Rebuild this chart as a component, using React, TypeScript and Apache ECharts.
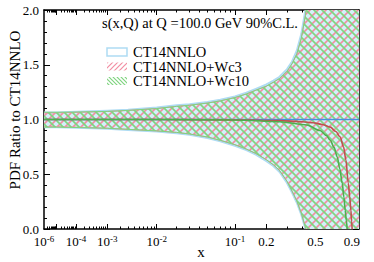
import React, { useEffect, useRef } from "react";
import * as echarts from "echarts";

// x-axis uses an x^0.2 scale
const POW = 0.2;
const toU = (x: number) => Math.pow(x, POW);
const X_MIN = 1e-6;
const X_MAX = 1;

const labelX = [1e-6, 1e-4, 1e-3, 1e-2, 1e-1, 0.2, 0.5, 0.9];
const labelText = ["10^-6", "10^-4", "10^-3", "10^-2", "10^-1", "0.2", "0.5", "0.9"];
const majorTickX = [1e-5, 1e-4, 1e-3, 1e-2, 1e-1, 0.2, 0.5, 0.9];
const minorTickX = [
  2e-6, 3e-6, 4e-6, 5e-6, 6e-6, 7e-6, 8e-6, 9e-6,
  2e-5, 3e-5, 4e-5, 5e-5, 6e-5, 7e-5, 8e-5, 9e-5,
  2e-4, 3e-4, 4e-4, 5e-4, 6e-4, 7e-4, 8e-4, 9e-4,
  2e-3, 3e-3, 4e-3, 5e-3, 6e-3, 7e-3, 8e-3, 9e-3,
  2e-2, 3e-2, 4e-2, 5e-2, 6e-2, 7e-2, 8e-2, 9e-2,
  0.3, 0.4, 0.6, 0.7, 0.8,
];

// band x grid (values beyond the 0..2 window continue outside and are clipped)
const bandX = [1e-6, 1e-5, 1e-4, 1e-3, 3e-3, 1e-2, 2e-2, 3e-2, 0.05, 0.07, 0.1, 0.13, 0.16, 0.2, 0.23, 0.26, 0.3, 0.33, 0.36, 0.39, 0.42, 0.45, 0.48, 0.5, 0.6, 1.0];
const ct14Upper = [1.065, 1.065, 1.07, 1.08, 1.09, 1.11, 1.13, 1.14, 1.16, 1.18, 1.21, 1.245, 1.28, 1.32, 1.355, 1.39, 1.46, 1.53, 1.63, 1.78, 2.0, 2.3, 2.65, 2.9, 3.2, 3.2];
const ct14Lower = [0.93, 0.93, 0.925, 0.915, 0.905, 0.89, 0.875, 0.86, 0.83, 0.8, 0.76, 0.72, 0.68, 0.62, 0.575, 0.52, 0.42, 0.33, 0.24, 0.13, 0.0, -0.35, -0.8, -1, -1, -1];
const wc3Upper = [1.06, 1.06, 1.065, 1.073, 1.083, 1.1, 1.12, 1.13, 1.15, 1.17, 1.2, 1.233, 1.267, 1.305, 1.34, 1.375, 1.44, 1.51, 1.6, 1.74, 1.95, 2.25, 2.6, 2.85, 3.2, 3.2];
const wc3Lower = [0.935, 0.935, 0.93, 0.92, 0.91, 0.896, 0.882, 0.868, 0.84, 0.81, 0.77, 0.73, 0.69, 0.632, 0.587, 0.533, 0.435, 0.345, 0.255, 0.145, 0.015, -0.33, -0.8, -1, -1, -1];
const wc10Upper = [1.066, 1.066, 1.068, 1.074, 1.083, 1.1, 1.12, 1.13, 1.15, 1.17, 1.2, 1.233, 1.267, 1.305, 1.34, 1.375, 1.44, 1.51, 1.6, 1.74, 1.95, 2.25, 2.6, 2.85, 3.2, 3.2];
const wc10Lower = [0.93, 0.93, 0.927, 0.92, 0.91, 0.896, 0.882, 0.868, 0.84, 0.81, 0.77, 0.73, 0.69, 0.632, 0.587, 0.533, 0.435, 0.345, 0.255, 0.145, 0.015, -0.33, -0.8, -1, -1, -1];

// central values
const ct14CentralX = [1e-6, 1e-3, 0.1, 0.5, 1.0];
const ct14Central = [1, 1, 1, 1, 1];
const wc3CentralX = [1e-6, 1e-3, 1e-2, 0.1, 0.26, 0.4, 0.48, 0.56, 0.64, 0.7, 0.75, 0.79, 0.82, 0.85, 0.87, 0.885, 0.895, 0.902];
const wc3Central = [1, 1, 1, 0.997, 0.99, 0.98, 0.97, 0.955, 0.93, 0.89, 0.84, 0.75, 0.63, 0.42, 0.29, 0.17, 0.07, 0];
const wc10CentralX = [1e-6, 1e-3, 1e-2, 0.1, 0.26, 0.43, 0.54, 0.6, 0.64, 0.68, 0.715, 0.745, 0.774, 0.795, 0.811, 0.825, 0.836];
const wc10Central = [1, 1, 1, 0.996, 0.98, 0.95, 0.9, 0.855, 0.81, 0.745, 0.66, 0.55, 0.42, 0.29, 0.17, 0.08, 0];

const legendNames = ["CT14NNLO", "CT14NNLO+Wc3", "CT14NNLO+Wc10"];
const titleText = "s(x,Q) at Q =100.0 GeV 90%C.L.";
const yName = "PDF Ratio to CT14NNLO";
const xName = "x";

const FONT = '"Liberation Serif", "DejaVu Serif", serif';
const BLUE_FILL = "#d3f0fa";
const BLUE_EDGE = "#aedcf3";
const PINK = "#f28ea3";
const GREEN = "#7fd47f";

function hatch(color: string, dir: number, size = 8, lw = 1.6) {
  const c = document.createElement("canvas");
  c.width = size;
  c.height = size;
  const g = c.getContext("2d")!;
  g.strokeStyle = color;
  g.lineWidth = lw;
  g.beginPath();
  const s = size;
  if (dir > 0) {
    g.moveTo(-2, s + 2); g.lineTo(s + 2, -2);
    g.moveTo(-2, 2); g.lineTo(2, -2);
    g.moveTo(s - 2, s + 2); g.lineTo(s + 2, s - 2);
  } else {
    g.moveTo(-2, -2); g.lineTo(s + 2, s + 2);
    g.moveTo(s - 2, -2); g.lineTo(s + 2, 2);
    g.moveTo(-2, s - 2); g.lineTo(2, s + 2);
  }
  g.stroke();
  return c;
}

function labelFor(v: number) {
  for (let i = 0; i < labelX.length; i++) {
    if (Math.abs(toU(labelX[i]) - v) < 1e-6) {
      const t = labelText[i];
      if (t.indexOf("^") >= 0) {
        const [b, e] = t.split("^");
        return `{b|${b}}{s|${e}}`;
      }
      return `{b|${t}}`;
    }
  }
  return "";
}

export default function App() {
  const ref = useRef<HTMLDivElement>(null);
  useEffect(() => {
    if (!ref.current) return;
    const chart = echarts.init(ref.current, null, { renderer: "svg" });
    const pinkPat = { image: hatch(PINK, 1), repeat: "repeat" };
    const greenPat = { image: hatch(GREEN, -1), repeat: "repeat" };
    const pinkLeg = { image: hatch(PINK, 1, 5, 1.2), repeat: "repeat" };
    const greenLeg = { image: hatch(GREEN, -1, 4, 1.2), repeat: "repeat" };

    const band = (up: number[], lo: number[], fill: any, edge: string, ew: number) => ({
      type: "custom",
      coordinateSystem: "cartesian2d",
      xAxisIndex: 0,
      yAxisIndex: 0,
      silent: true,
      data: [[toU(X_MIN), 1]],
      renderItem: (params: any, api: any) => {
        const cs = params.coordSys;
        const upPts = bandX.map((x, i) => api.coord([toU(x), up[i]]));
        const loPts = bandX.map((x, i) => api.coord([toU(x), lo[i]]));
        return {
          type: "group",
          clipPath: { type: "rect", shape: { x: cs.x, y: cs.y, width: cs.width, height: cs.height } },
          children: [
            { type: "polygon", shape: { points: upPts.concat(loPts.slice().reverse()) }, style: { fill, stroke: null } },
            { type: "polyline", shape: { points: upPts }, style: { fill: null, stroke: edge, lineWidth: ew } },
            { type: "polyline", shape: { points: loPts }, style: { fill: null, stroke: edge, lineWidth: ew } },
          ],
        };
      },
    });
    const central = (xs: number[], ys: number[], color: string) => ({
      type: "line", symbol: "none", smooth: 0.3, smoothMonotone: "x", silent: true,
      lineStyle: { color, width: 1.6 },
      data: xs.map((x, i) => [toU(x), ys[i]]),
    });

    const xBase = {
      type: "value", min: toU(X_MIN), max: toU(X_MAX), gridIndex: 0,
      splitLine: { show: false },
    };
    const axisLine = { show: true, lineStyle: { color: "#000", width: 1.5 } };

    chart.setOption({
      animation: false,
      grid: { left: 44, right: 15, top: 10, bottom: 33 },
      xAxis: [
        {
          ...xBase, position: "bottom", axisLine,
          axisTick: { show: true, inside: true, length: 5, lineStyle: { color: "#000", width: 1 }, customValues: majorTickX.map(toU) },
          axisLabel: {
            show: true, margin: 5, customValues: labelX.map(toU), formatter: (v: number) => labelFor(v),
            rich: {
              b: { fontFamily: FONT, fontSize: 13, color: "#000", lineHeight: 15 },
              s: { fontFamily: FONT, fontSize: 9, color: "#000", verticalAlign: "top", lineHeight: 9 },
            },
          },
        },
        {
          ...xBase, position: "bottom", axisLine: { show: false },
          axisTick: { show: true, inside: true, length: 2.5, lineStyle: { color: "#000", width: 1 }, customValues: minorTickX.map(toU) },
          axisLabel: { show: false },
        },
        {
          ...xBase, position: "top", axisLine,
          axisTick: { show: true, inside: true, length: 5, lineStyle: { color: "#000", width: 1 }, customValues: majorTickX.map(toU) },
          axisLabel: { show: false },
        },
        {
          ...xBase, position: "top", axisLine: { show: false },
          axisTick: { show: true, inside: true, length: 2.5, lineStyle: { color: "#000", width: 1 }, customValues: minorTickX.map(toU) },
          axisLabel: { show: false },
        },
      ],
      yAxis: [
        {
          type: "value", min: 0, max: 2, interval: 0.5, position: "left", axisLine,
          splitLine: { show: false },
          axisTick: { show: true, inside: true, length: 6, lineStyle: { color: "#000", width: 1 } },
          minorTick: { show: true, splitNumber: 5, length: 3, lineStyle: { color: "#000", width: 1 } },
          axisLabel: { show: true, margin: 5, fontFamily: FONT, fontSize: 13, color: "#000", formatter: (v: number) => v.toFixed(1) },
        },
        {
          type: "value", min: 0, max: 2, interval: 0.5, position: "right", axisLine,
          splitLine: { show: false },
          axisTick: { show: true, inside: true, length: 6, lineStyle: { color: "#000", width: 1 } },
          minorTick: { show: true, splitNumber: 5, length: 3, lineStyle: { color: "#000", width: 1 } },
          axisLabel: { show: false },
        },
      ],
      series: [
        band(ct14Upper, ct14Lower, BLUE_FILL, BLUE_EDGE, 2),
        band(wc3Upper, wc3Lower, pinkPat, PINK, 1),
        band(wc10Upper, wc10Lower, greenPat, GREEN, 1),
        central(ct14CentralX, ct14Central, "#4a8fdc"),
        central(wc3CentralX, wc3Central, "#c0504f"),
        central(wc10CentralX, wc10Central, "#4fae4f"),
      ],
      graphic: [
        { type: "text", x: 102, y: 23, style: { text: titleText, font: `14.5px ${FONT}`, fill: "#000", textVerticalAlign: "middle" }, z: 100 },
        { type: "rect", shape: { x: 107, y: 48, width: 20, height: 8 }, style: { fill: "#fff", stroke: BLUE_EDGE, lineWidth: 1.5 }, z: 100 },
        { type: "rect", shape: { x: 107, y: 62.5, width: 20, height: 8 }, style: { fill: pinkLeg, stroke: null }, z: 100 },
        { type: "rect", shape: { x: 107, y: 77, width: 20, height: 8 }, style: { fill: greenLeg, stroke: null }, z: 100 },
        { type: "text", x: 133, y: 52, style: { text: legendNames[0], font: `14.5px ${FONT}`, fill: "#000", textVerticalAlign: "middle" }, z: 100 },
        { type: "text", x: 133, y: 66.5, style: { text: legendNames[1], font: `14.5px ${FONT}`, fill: "#000", textVerticalAlign: "middle" }, z: 100 },
        { type: "text", x: 133, y: 81, style: { text: legendNames[2], font: `14.5px ${FONT}`, fill: "#000", textVerticalAlign: "middle" }, z: 100 },
        { type: "text", x: 15, y: 110, rotation: Math.PI / 2, style: { text: yName, font: `15px ${FONT}`, fill: "#000", textAlign: "center", textVerticalAlign: "middle" }, z: 100 },
        { type: "text", x: 201, y: 252, style: { text: xName, font: `15px ${FONT}`, fill: "#000", textAlign: "center", textVerticalAlign: "middle" }, z: 100 },
      ],
    });
    return () => chart.dispose();
  }, []);
  return <div ref={ref} style={{ width: 374, height: 262, position: "absolute", left: 0, top: 0 }} />;
}
